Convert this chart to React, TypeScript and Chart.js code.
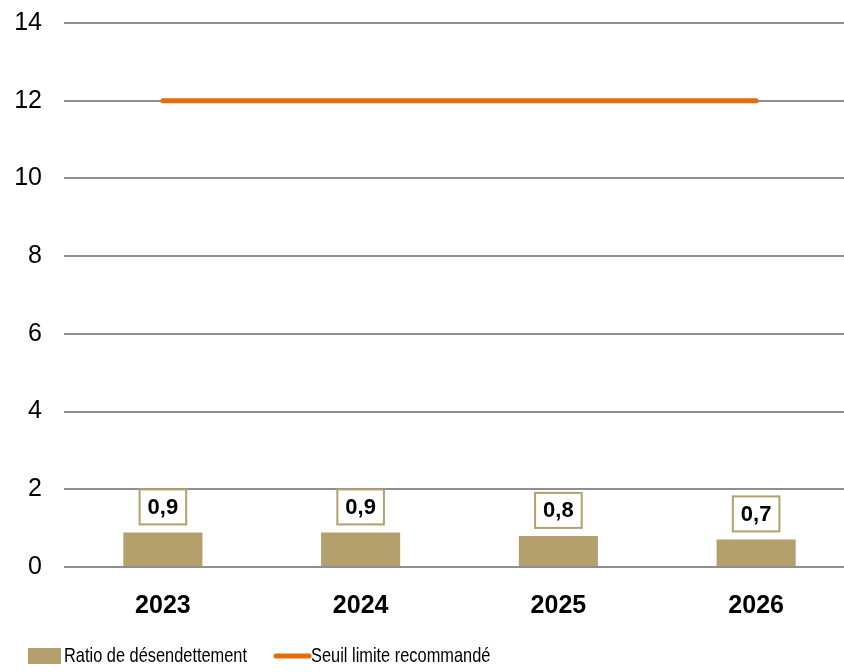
import React, { useEffect, useRef } from "react";
import { Chart, registerables } from "chart.js";

Chart.register(...registerables);

const categories = ["2023", "2024", "2025", "2026"];
const ratioValues = [0.89, 0.89, 0.8, 0.71];
const thresholdValues = [12, 12, 12, 12];
const yTicks = [0, 2, 4, 6, 8, 10, 12, 14];
const seriesNames = ["Ratio de désendettement", "Seuil limite recommandé"];

const BAR_COLOR = "#B3A06D";
const LINE_COLOR = "#E46C0A";
const GRID_COLOR = "#8f8f8f";

const SHIFT = 14;

const dataLabelPlugin = {
  id: "boxedLabels",
  afterDatasetsDraw(chart: any) {
    const ctx = chart.ctx;
    const meta = chart.getDatasetMeta(0);
    ctx.save();
    ctx.font = "bold 22px 'Liberation Sans', Arial, sans-serif";
    ctx.textAlign = "center";
    ctx.textBaseline = "middle";
    meta.data.forEach((el: any, i: number) => {
      const txt = ratioValues[i].toFixed(1).replace(".", ",");
      const w = ctx.measureText(txt).width + 16;
      const h = 35;
      const cx = el.x;
      const bottom = el.y - 8;
      ctx.fillStyle = "#ffffff";
      ctx.fillRect(cx - w / 2, bottom - h, w, h);
      ctx.strokeStyle = BAR_COLOR;
      ctx.lineWidth = 2;
      ctx.strokeRect(cx - w / 2, bottom - h, w, h);
      ctx.fillStyle = "#000000";
      ctx.fillText(txt, cx, bottom - h / 2 + 1);
    });
    ctx.restore();
  },
};

const SQUEEZE = 0.78;

function drawSqueezedText(ctx: CanvasRenderingContext2D, txt: string, x: number, y: number) {
  ctx.save();
  ctx.translate(x, y);
  ctx.scale(SQUEEZE, 1);
  ctx.fillText(txt, 0, 0);
  ctx.restore();
  return ctx.measureText(txt).width * SQUEEZE;
}

const legendPlugin = {
  id: "customLegend",
  afterDraw(chart: any) {
    const ctx = chart.ctx;
    ctx.save();
    ctx.font = "21px 'Liberation Sans', Arial, sans-serif";
    ctx.textBaseline = "middle";
    ctx.textAlign = "left";
    const y = chart.chartArea.bottom + 89;
    let x = 28;
    ctx.fillStyle = BAR_COLOR;
    ctx.fillRect(x, y - 8, 33, 16);
    x += 36;
    ctx.fillStyle = "#000";
    x += drawSqueezedText(ctx, seriesNames[0], x, y) + 28;
    ctx.strokeStyle = LINE_COLOR;
    ctx.lineWidth = 5;
    ctx.lineCap = "round";
    ctx.beginPath();
    ctx.moveTo(x + 1, y);
    ctx.lineTo(x + 34, y);
    ctx.stroke();
    x += 36;
    ctx.fillStyle = "#000";
    drawSqueezedText(ctx, seriesNames[1], x, y);
    ctx.restore();
  },
};

export default function App() {
  const ref = useRef<HTMLCanvasElement | null>(null);
  useEffect(() => {
    if (!ref.current) return;
    const chart = new Chart(ref.current, {
      type: "bar",
      data: {
        labels: categories,
        datasets: [
          {
            type: "bar",
            label: seriesNames[0],
            data: ratioValues,
            backgroundColor: BAR_COLOR,
            categoryPercentage: 1,
            barPercentage: 0.4,
            order: 2,
          },
          {
            type: "line",
            label: seriesNames[1],
            data: thresholdValues,
            borderColor: LINE_COLOR,
            backgroundColor: LINE_COLOR,
            borderWidth: 5,
            borderCapStyle: "round",
            pointRadius: 0,
            order: 1,
          } as any,
        ],
      },
      options: {
        animation: false,
        responsive: false,
        maintainAspectRatio: false,
        layout: { padding: { top: 10, bottom: 45, left: 0, right: 0 } },
        plugins: { legend: { display: false }, tooltip: { enabled: false } },
        scales: {
          x: {
            grid: { display: false, drawTicks: false },
            border: { display: false },
            ticks: {
              color: "#000",
              font: { family: "'Liberation Sans', Arial, sans-serif", size: 25, weight: "bold" },
              padding: 24,
            },
            afterFit(scale: any) {
              scale.height = 60;
            },
          },
          y: {
            min: 0,
            max: 14,
            afterBuildTicks(scale: any) {
              scale.ticks = yTicks.map((v) => ({ value: v }));
            },
            grid: { color: GRID_COLOR, lineWidth: 2, drawTicks: false },
            border: { display: false },
            ticks: {
              color: "#000",
              font: { family: "'Liberation Sans', Arial, sans-serif", size: 25 },
              padding: 22,
            },
            afterFit(scale: any) {
              scale.width = 64;
            },
          },
        },
      },
      plugins: [dataLabelPlugin, legendPlugin],
    });
    return () => chart.destroy();
  }, []);
  return (
    <div style={{ position: "fixed", left: 0, top: 0, width: 844, height: 672, overflow: "hidden", background: "#fff" }}>
      <canvas
        ref={ref}
        width={855}
        height={672 + SHIFT}
        style={{ display: "block", width: 855, height: 672 + SHIFT, marginTop: -SHIFT }}
      />
    </div>
  );
}
